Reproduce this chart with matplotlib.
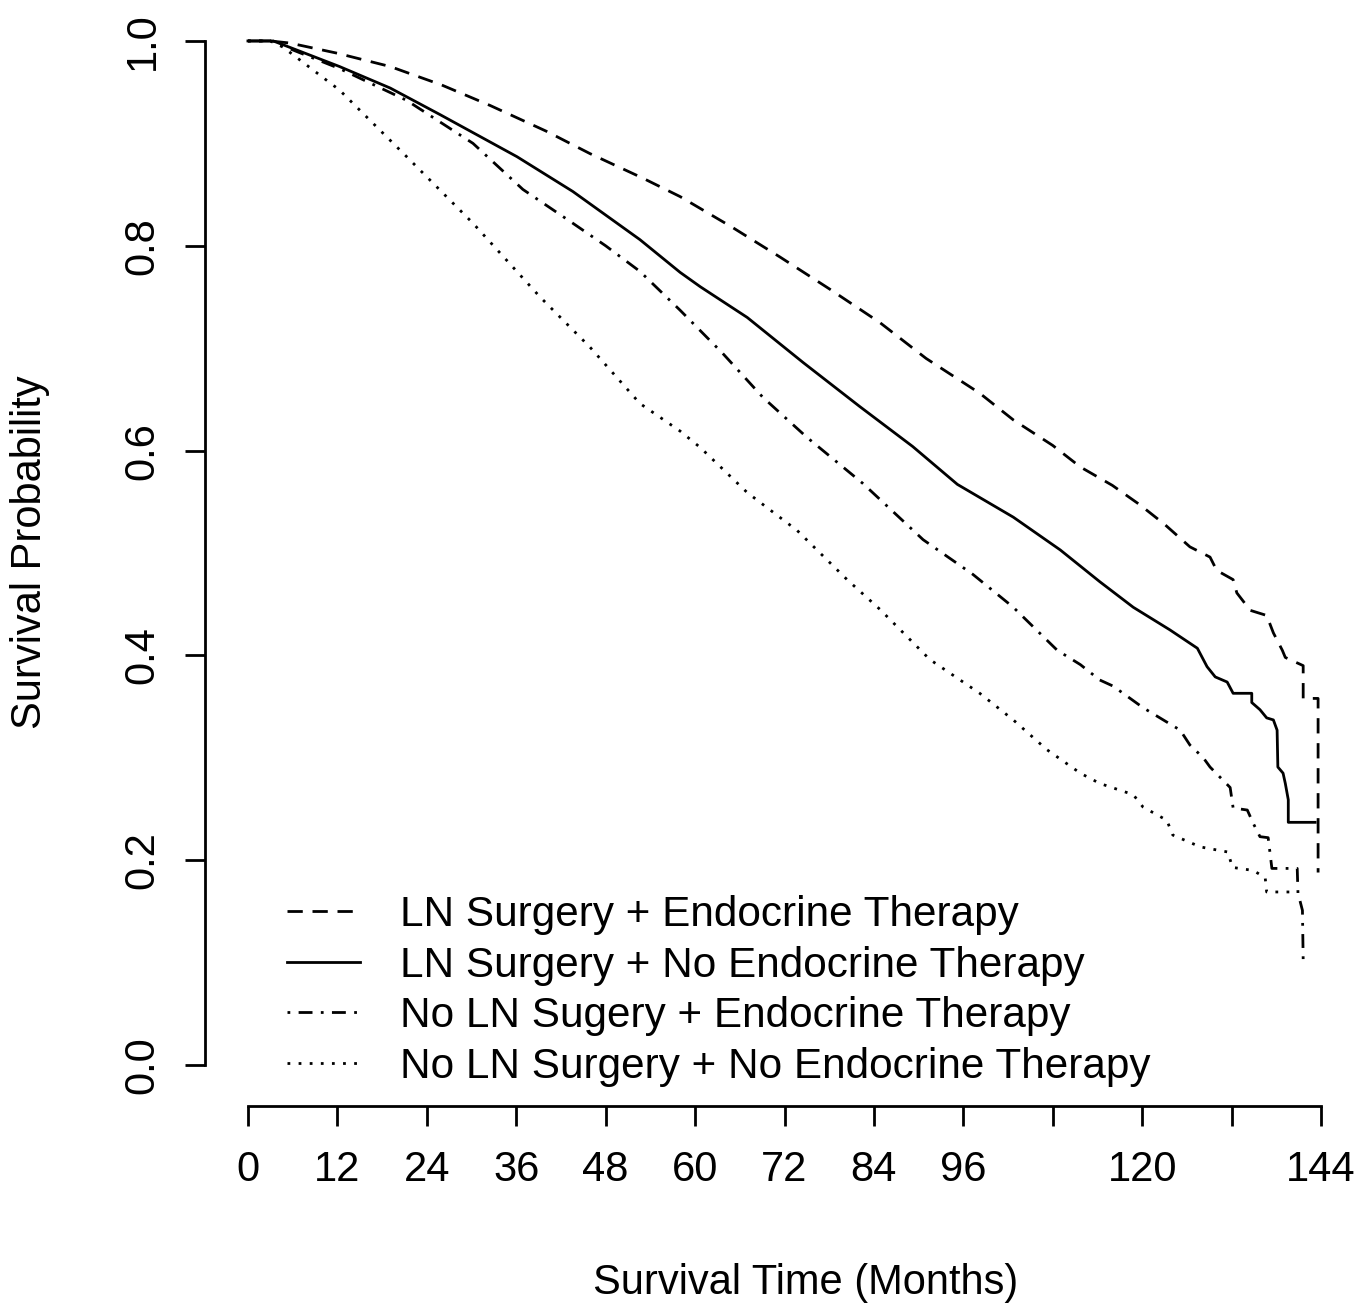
import matplotlib
matplotlib.use('Agg')
from matplotlib import pyplot as plt

plt.rcParams['font.family'] = ['Liberation Sans', 'DejaVu Sans']

# Kaplan-Meier curves: months, survival probability
ln_et_t = [0, 3, 5.6, 12, 19.1, 26, 32.5, 40, 45.9, 53, 58, 65, 71.4, 78, 84.8, 91, 98.2,
           102.7, 108, 111.7, 116, 119.7, 123, 126.4, 129.1, 130, 132.2, 132.7, 134.5,
           136.7, 137.6, 138.8, 139.2, 141.6, 141.6, 143.6, 143.6]
ln_et_s = [1.0, 1.0, 0.998, 0.988, 0.975, 0.957, 0.937, 0.912, 0.890, 0.866, 0.848, 0.818,
           0.789, 0.758, 0.725, 0.690, 0.656, 0.630, 0.605, 0.584, 0.566, 0.547, 0.528, 0.506,
           0.496, 0.483, 0.474, 0.461, 0.444, 0.439, 0.422, 0.405, 0.398, 0.390, 0.358, 0.358,
           0.188]

ln_noet_t = [0, 3.4, 12.3, 19.1, 25.8, 36.1, 43.6, 52.6, 58, 60.7, 67, 74.5, 82.1, 89.2, 95.2,
             102.7, 109, 114.3, 118.8, 123.7, 127.4, 128.7, 129.8, 131.4, 132.2, 134.7, 134.7,
             135.8, 136.7, 137.6, 138.1, 138.2, 138.9, 139.2, 139.6, 139.6, 143.2]
ln_noet_s = [1.0, 1.0, 0.975, 0.954, 0.928, 0.887, 0.853, 0.806, 0.774, 0.760, 0.730, 0.686,
             0.643, 0.604, 0.567, 0.535, 0.503, 0.472, 0.447, 0.425, 0.407, 0.389, 0.379, 0.374,
             0.363, 0.363, 0.354, 0.347, 0.339, 0.337, 0.327, 0.291, 0.285, 0.275, 0.259, 0.237,
             0.237]

noln_et_t = [0, 3, 12.3, 21.3, 30.2, 36.9, 43.6, 48, 52.6, 58, 63.7, 69.1, 75, 82.5, 90.6, 97.3,
             102.7, 108.6, 111.7, 114.3, 116.1, 120.1, 125.1, 126.4, 128.2, 129.1, 131.8, 132.2,
             134.1, 134.9, 135.8, 136.9, 137.4, 140.8, 140.9, 141.5, 141.6, 142.5]
noln_et_s = [1.0, 1.0, 0.973, 0.942, 0.900, 0.855, 0.822, 0.800, 0.775, 0.737, 0.695, 0.652,
             0.613, 0.568, 0.513, 0.479, 0.447, 0.405, 0.391, 0.376, 0.370, 0.349, 0.327, 0.3125,
             0.300, 0.291, 0.271, 0.251, 0.249, 0.236, 0.223, 0.222, 0.192, 0.192, 0.168, 0.151,
             0.1025, 0.1025]

noln_noet_t = [0, 3, 4.7, 12.3, 21.3, 30.2, 39.2, 45.9, 52.6, 58, 60.7, 67, 73.7, 80.4, 84.8,
               91.5, 98.2, 102.7, 107.2, 111.7, 114.3, 118.8, 120.1, 123.3, 124.1, 127.8, 131.5,
               132.1, 134.9, 136.5, 136.7, 140.8]
noln_noet_s = [1.0, 1.0, 0.994, 0.952, 0.887, 0.822, 0.750, 0.701, 0.646, 0.619, 0.603, 0.559,
               0.522, 0.474, 0.445, 0.396, 0.363, 0.337, 0.308, 0.285, 0.275, 0.264, 0.252, 0.239,
               0.2246, 0.213, 0.208, 0.193, 0.190, 0.183, 0.169, 0.169]

labels = ['LN Surgery + Endocrine Therapy',
          'LN Surgery + No Endocrine Therapy',
          'No LN Sugery + Endocrine Therapy',
          'No LN Surgery + No Endocrine Therapy']

x_ticks = [0, 12, 24, 36, 48, 60, 72, 84, 96, 108, 120, 132, 144]
x_tick_labels = ['0', '12', '24', '36', '48', '60', '72', '84', '96', '', '120', '', '144']
y_ticks = [0.0, 0.2, 0.4, 0.6, 0.8, 1.0]

W, H = 1372, 1309
fig = plt.figure(figsize=(W / 100, H / 100), dpi=100)
ax = fig.add_axes([205 / W, 1 - 1106 / H, 1159 / W, 1106 / H])

lw = 2.0
ax.plot(ln_et_t, ln_et_s, color='black', lw=lw, dashes=(5.5, 3.5), label=labels[0])
ax.plot(ln_noet_t, ln_noet_s, color='black', lw=lw, linestyle='-', label=labels[1])
ax.plot(noln_et_t, noln_et_s, color='black', lw=lw, dashes=(1, 3, 5, 3), label=labels[2])
ax.plot(noln_noet_t, noln_noet_s, color='black', lw=lw, dashes=(1, 3), label=labels[3])

ax.set_xlim(-5.76, 149.76)
ax.set_ylim(-0.04, 1.04)

for s in ['top', 'right']:
    ax.spines[s].set_visible(False)
ax.spines['left'].set_bounds(0, 1)
ax.spines['bottom'].set_bounds(0, 144)
ax.spines['left'].set_linewidth(lw)
ax.spines['bottom'].set_linewidth(lw)

ax.set_xticks(x_ticks)
ax.set_xticklabels(x_tick_labels)
ax.set_yticks(y_ticks)
ax.set_yticklabels(['%.1f' % v for v in y_ticks])
ax.tick_params(axis='both', direction='out', length=14.4, width=lw, labelsize=30)
ax.tick_params(axis='x', pad=17)
ax.tick_params(axis='y', pad=16, labelrotation=90)
for t in ax.get_yticklabels():
    t.set_verticalalignment('center')

fig.text(806 / W, 1 - 1283 / H, 'Survival Time (Months)', ha='center', va='center', fontsize=30)
fig.text(30 / W, 1 - 552 / H, 'Survival Probability', ha='center', va='center',
         rotation=90, fontsize=30)

ax.legend(loc='upper left', bbox_to_anchor=(287 / W, 1 - 895 / H), bbox_transform=fig.transFigure,
          frameon=False, fontsize=30.4, handlelength=1.73, handletextpad=0.94,
          labelspacing=0.25, borderpad=0, borderaxespad=0)

fig.savefig('out.png', dpi=100)
